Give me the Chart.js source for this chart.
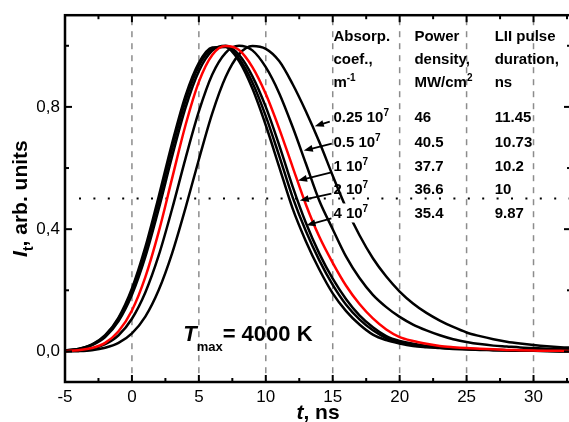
<!DOCTYPE html>
<html>
<head>
<meta charset="utf-8">
<script src="https://cdn.jsdelivr.net/npm/chart.js@4/dist/chart.umd.min.js"></script>
<style>
  html, body { margin: 0; padding: 0; background: #fff; overflow: hidden; }
  #wrap { width: 571px; height: 422px; position: relative; }
</style>
</head>
<body>
<div id="wrap"><canvas id="lii"></canvas></div>
<script>
// Zeitachse t, ns
const tVals = [-5,-4,-3,-2,-1,0,1,2,3,4,5,6,7,8,9,10,11,12,13,14,15,16,17,18,19,20,21,22,23,24,25,26,27,28,29,30,31,32,33];

// LII-Signale, normiert auf 1
const curveA = [0.003,0.008,0.022,0.053,0.111,0.206,0.341,0.507,0.681,0.836,0.944,0.994,0.996,0.95,0.86,0.74,0.604,0.468,0.36,0.268,0.19,0.132,0.088,0.055,0.037,0.026,0.018,0.014,0.011,0.008,0.006,0.005,0.004,0.003,0.002,0.002,0.001,0.001,0.001];
const curveB = [0.003,0.008,0.022,0.051,0.107,0.199,0.329,0.491,0.664,0.82,0.934,0.99,0.998,0.958,0.88,0.77,0.64,0.505,0.393,0.298,0.218,0.153,0.105,0.069,0.044,0.031,0.023,0.017,0.013,0.010,0.008,0.006,0.005,0.004,0.003,0.002,0.002,0.001,0.001];
const curveC = [0.002,0.007,0.020,0.047,0.099,0.185,0.309,0.466,0.638,0.797,0.917,0.984,1.0,0.97,0.90,0.80,0.675,0.54,0.42,0.32,0.238,0.171,0.118,0.079,0.05,0.034,0.025,0.018,0.014,0.011,0.009,0.007,0.005,0.004,0.003,0.002,0.002,0.001,0.001];
const curveRed = [0.001,0.004,0.011,0.028,0.066,0.134,0.243,0.391,0.566,0.74,0.882,0.97,0.999,0.986,0.93,0.842,0.729,0.604,0.48,0.375,0.29,0.215,0.155,0.108,0.072,0.047,0.034,0.025,0.018,0.014,0.011,0.009,0.007,0.005,0.004,0.003,0.002,0.002,0.001];
const curveD = [0.001,0.003,0.009,0.024,0.053,0.107,0.193,0.314,0.466,0.631,0.785,0.906,0.977,1.0,0.985,0.93,0.845,0.735,0.614,0.493,0.40,0.31,0.24,0.185,0.145,0.113,0.088,0.069,0.053,0.040,0.031,0.024,0.019,0.016,0.013,0.011,0.009,0.008,0.007];
const curveE = [0.0,0.001,0.004,0.012,0.028,0.059,0.114,0.201,0.321,0.469,0.628,0.779,0.898,0.972,0.999,0.99,0.95,0.875,0.785,0.685,0.575,0.47,0.38,0.305,0.245,0.196,0.157,0.126,0.101,0.080,0.062,0.050,0.040,0.032,0.026,0.021,0.017,0.014,0.012];

// Tabelle
const absorpRows = ['0.25', '0.5', '1', '2', '4'];
const powerRows = ['46', '40.5', '37.7', '36.6', '35.4'];
const durationRows = ['11.45', '10.73', '10.2', '10', '9.87'];

// Achsen
const xMajorTicks = [-5, 0, 5, 10, 15, 20, 25, 30];
const xMinorTicks = [-2.5, 2.5, 7.5, 12.5, 17.5, 22.5, 27.5, 32.5];
const xGridLines = [0, 5, 10, 15, 20, 25, 30];
const yMajorTicks = [0, 0.4, 0.8];
const yMinorTicks = [0.2, 0.6, 1.0];
const yTickLabels = ['0,0', '0,4', '0,8'];
const halfLevel = 0.5;

// Pfeile: [t Anfang, I Anfang, t Spitze, I Spitze]
const arrows = [
  [14.78, 0.752, 13.66, 0.737],
  [14.93, 0.680, 12.84, 0.657],
  [14.90, 0.586, 12.41, 0.559],
  [14.90, 0.516, 12.54, 0.494],
  [14.90, 0.435, 13.04, 0.413]
];

const FONT = '"Liberation Sans", Arial, sans-serif';
const bold15 = 'bold 15px ' + FONT;
const sup10 = 'bold 10px ' + FONT;

// Position der Texte (Datenkoordinaten)
const colT = [15.05, 21.1, 27.1];
const headV = [1.015, 0.939, 0.865];
const rowV = [0.749, 0.668, 0.590, 0.514, 0.435];
const tmaxPos = [3.83, 0.0335];

function richText(ctx, x, y, parts, align) {
  let w = 0;
  parts.forEach(p => { ctx.font = p[1]; w += ctx.measureText(p[0]).width; });
  let cx = align === 'center' ? x - w / 2 : x;
  parts.forEach(p => {
    ctx.font = p[1];
    ctx.fillText(p[0], cx, y + (p[2] || 0));
    cx += ctx.measureText(p[0]).width;
  });
  return w;
}

function drawArrow(ctx, x1, y1, x2, y2) {
  const ang = Math.atan2(y2 - y1, x2 - x1), L = 9, W = 3.5;
  const c = Math.cos(ang), s = Math.sin(ang);
  ctx.beginPath();
  ctx.moveTo(x1, y1);
  ctx.lineTo(x2 - L * 0.6 * c, y2 - L * 0.6 * s);
  ctx.stroke();
  ctx.beginPath();
  ctx.moveTo(x2, y2);
  ctx.lineTo(x2 - L * c + W * s, y2 - L * s - W * c);
  ctx.lineTo(x2 - L * c - W * s, y2 - L * s + W * c);
  ctx.closePath();
  ctx.fill();
}

const chartBox = {
  id: 'chartBox',
  beforeDatasetsDraw(chart) {
    const {ctx, chartArea: a, scales: {x, y}} = chart;
    ctx.save();
    // gestrichelte Gitterlinien
    ctx.strokeStyle = '#8c8c8c';
    ctx.lineWidth = 1.5;
    ctx.setLineDash([6, 6]);
    xGridLines.forEach(v => {
      const px = x.getPixelForValue(v);
      ctx.beginPath(); ctx.moveTo(px, a.top + 4); ctx.lineTo(px, a.bottom); ctx.stroke();
    });
    // punktierte Linie bei halber Höhe
    ctx.strokeStyle = '#000';
    ctx.lineWidth = 2;
    ctx.setLineDash([2, 12.4]);
    const py = y.getPixelForValue(halfLevel);
    ctx.beginPath(); ctx.moveTo(a.left + 14, py); ctx.lineTo(a.right, py); ctx.stroke();
    ctx.restore();
  },
  afterDatasetsDraw(chart) {
    const {ctx, chartArea: a, scales: {x, y}} = chart;
    ctx.save();
    ctx.fillStyle = '#000';
    ctx.strokeStyle = '#000';
    ctx.textAlign = 'left';
    ctx.textBaseline = 'alphabetic';

    // Rahmen und Ticks nach innen
    ctx.lineWidth = 2.5;
    ctx.strokeRect(a.left, a.top, a.right - a.left, a.bottom - a.top);
    ctx.lineWidth = 2;
    const tickX = (v, len) => {
      const px = x.getPixelForValue(v);
      ctx.beginPath(); ctx.moveTo(px, a.bottom); ctx.lineTo(px, a.bottom - len); ctx.stroke();
      ctx.beginPath(); ctx.moveTo(px, a.top); ctx.lineTo(px, a.top + len); ctx.stroke();
    };
    const tickY = (v, len) => {
      const py = y.getPixelForValue(v);
      ctx.beginPath(); ctx.moveTo(a.left, py); ctx.lineTo(a.left + len, py); ctx.stroke();
      ctx.beginPath(); ctx.moveTo(a.right, py); ctx.lineTo(a.right - len, py); ctx.stroke();
    };
    xMajorTicks.forEach(v => tickX(v, 7));
    xMinorTicks.forEach(v => tickX(v, 4));
    yMajorTicks.forEach(v => tickY(v, 7));
    yMinorTicks.forEach(v => tickY(v, 4));

    // weisser Hintergrund hinter "4 10^7"
    const c0 = x.getPixelForValue(colT[0]);
    const r4 = y.getPixelForValue(rowV[4]);
    ctx.fillStyle = '#fff';
    ctx.fillRect(c0 + 2, r4 - 15, 32, 19);
    ctx.fillStyle = '#000';

    // Tabellenkopf
    const heads = [
      [[['Absorp.', bold15]], [['coef.,', bold15]], [['m', bold15], ['-1', sup10, -6]]],
      [[['Power', bold15]], [['density,', bold15]], [['MW/cm', bold15], ['2', sup10, -6]]],
      [[['LII pulse', bold15]], [['duration,', bold15]], [['ns', bold15]]]
    ];
    heads.forEach((col, ci) => {
      col.forEach((parts, ri) => {
        richText(ctx, x.getPixelForValue(colT[ci]), y.getPixelForValue(headV[ri]), parts);
      });
    });
    // Tabellenzeilen
    absorpRows.forEach((v, i) => {
      const py = y.getPixelForValue(rowV[i]);
      richText(ctx, x.getPixelForValue(colT[0]), py, [[v + ' 10', bold15], ['7', sup10, -6]]);
      richText(ctx, x.getPixelForValue(colT[1]), py, [[powerRows[i], bold15]]);
      richText(ctx, x.getPixelForValue(colT[2]), py, [[durationRows[i], bold15]]);
    });

    // Pfeile
    ctx.lineWidth = 1.8;
    arrows.forEach(ar => {
      drawArrow(ctx, x.getPixelForValue(ar[0]), y.getPixelForValue(ar[1]),
                x.getPixelForValue(ar[2]), y.getPixelForValue(ar[3]));
    });

    // T_max = 4000 K
    richText(ctx, x.getPixelForValue(tmaxPos[0]), y.getPixelForValue(tmaxPos[1]), [
      ['T', 'italic bold 22px ' + FONT],
      ['max', 'bold 13px ' + FONT, 10],
      ['= 4000 K', 'bold 22px ' + FONT]
    ]);

    // Achsentitel x
    richText(ctx, (a.left + a.right) / 2, 419, [
      ['t', 'italic bold 21px ' + FONT],
      [', ns', 'bold 21px ' + FONT]
    ], 'center');

    // Achsentitel y
    ctx.translate(27, (a.top + a.bottom) / 2);
    ctx.rotate(-Math.PI / 2);
    richText(ctx, 0, 0, [
      ['I', 'italic bold 21px ' + FONT],
      ['t', 'bold 14px ' + FONT, 6],
      [', arb. units', 'bold 21px ' + FONT]
    ], 'center');
    ctx.restore();
  }
};

const series = [
  {data: curveRed, color: '#ff0000'},
  {data: curveA, color: '#000'},
  {data: curveB, color: '#000'},
  {data: curveC, color: '#000'},
  {data: curveD, color: '#000'},
  {data: curveE, color: '#000'}
];

new Chart(document.getElementById('lii'), {
  type: 'line',
  data: {
    datasets: series.map(s => ({
      data: tVals.map((t, i) => ({x: t, y: s.data[i]})),
      borderColor: s.color,
      borderWidth: 2.5,
      pointRadius: 0,
      fill: false,
      cubicInterpolationMode: 'monotone'
    }))
  },
  options: {
    responsive: true,
    maintainAspectRatio: false,
    animation: false,
    layout: {padding: {top: 13, right: 0, left: 0, bottom: 0}},
    plugins: {legend: {display: false}, tooltip: {enabled: false}},
    scales: {
      x: {
        type: 'linear', min: -5, max: 32.8,
        afterBuildTicks: s => { s.ticks = xMajorTicks.map(v => ({value: v})); },
        afterFit: s => { s.height = 40; },
        grid: {display: false, drawTicks: false},
        border: {display: false},
        ticks: {color: '#000', font: {family: FONT, size: 17}, padding: 5, maxRotation: 0,
                callback: v => String(v)}
      },
      y: {
        type: 'linear', min: -0.1, max: 1.1,
        afterBuildTicks: s => { s.ticks = yMajorTicks.map(v => ({value: v})); },
        afterFit: s => { s.width = 65; },
        grid: {display: false, drawTicks: false},
        border: {display: false},
        ticks: {color: '#000', font: {family: FONT, size: 17}, padding: 5,
                callback: (v, i) => yTickLabels[i]}
      }
    }
  },
  plugins: [chartBox]
});
</script>
</body>
</html>
